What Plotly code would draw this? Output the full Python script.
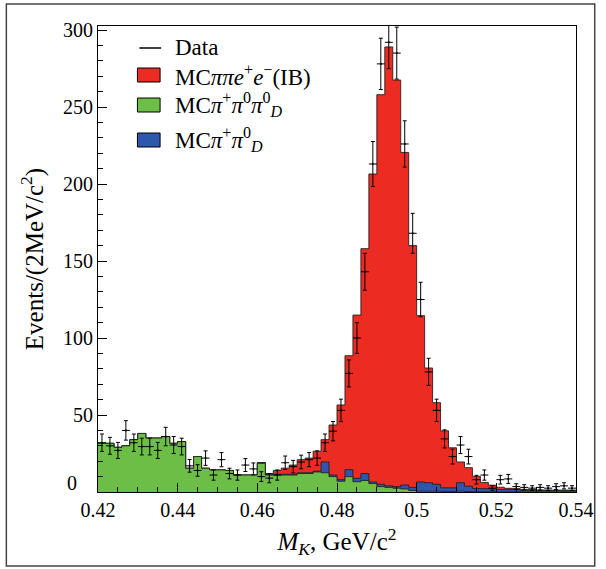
import numpy as np
import plotly.graph_objects as go

# ---- data (2 MeV/c^2 bins from 0.42 to 0.54) ----
x_min, x_max, bin_w = 0.42, 0.54, 0.002

green = [31.6, 31.6, 29, 30, 34, 38, 35, 35, 36, 31.6,
         32.7, 15.4, 23, 15.4, 14.3, 14.3, 14, 11, 11, 11,
         18.6, 11, 11, 11, 11, 12, 12, 13, 12.5, 10,
         7, 10, 6.7, 7.5, 5.5, 3.5, 3, 2.5, 2, 1,
         0.5, 0.5, 0.5, 0.3, 0.3, 0.5, 0.3, 0.2, 0.2, 0.1,
         0.1, 0.1, 0.1, 0, 0, 0, 0, 0, 0, 0]

blue = [0, 0, 0, 0, 0, 0, 0, 0, 0, 0,
        0, 0, 0, 0, 0, 0, 0, 0, 0, 0,
        0.5, 0.5, 0.5, 0.5, 0.5, 0.5, 0.5, 0.5, 7, 1,
        1, 4.5, 2.2, 4.5, 1, 1.5, 1, 1, 2.5, 2,
        6, 5.5, 4.5, 2.4, 2.4, 5.5, 3.5, 2, 2, 2,
        1.5, 1.5, 1.5, 1.2, 1.2, 1, 1, 1, 1, 1]

red = [0, 0, 0, 0, 0, 0, 0, 0, 0, 0,
       0, 0, 0, 0, 0, 0, 0, 0, 0, 0,
       0, 0.5, 2.5, 4, 6, 8.5, 9.5, 13, 14.5, 32.5,
       48.5, 74, 106, 146, 200, 253, 285, 264, 216, 157,
       108, 74.5, 53, 37, 26, 13.5, 12, 8, 4, 2.3,
       1.5, 0.8, 0.6, 0.5, 0.4, 0.3, 0.3, 0.2, 0.2, 0.2]

data = [32, 30, 27, 40, 32, 29.5, 29.5, 27, 36, 30.5,
        29.5, 17, 14, 22, 11, 21, 12, 11, 17.5, 15,
        10, 9, 11, 19, 16.5, 19.5, 21, 22, 32, 39.5,
        53, 77, 100, 143, 213, 278, 292, 285, 226, 168,
        125, 78, 53, 34.5, 23, 30.5, 23, 8, 11, 2.5,
        8, 8.5, 3.5, 3, 2.5, 3, 2.5, 3.5, 4, 2.5]

x_ticks = [0.42, 0.44, 0.46, 0.48, 0.5, 0.52, 0.54]
x_tick_text = ["0.42", "0.44", "0.46", "0.48", "0.5", "0.52", "0.54"]
y_ticks = [0, 50, 100, 150, 200, 250, 300]
y_tick_text = ["", "50", "100", "150", "200", "250", "300"]  # "0" drawn slightly raised, as in the reference

legend_names = [
    "Data",
    "MC<i>ππe</i><sup>+</sup><i>e</i><sup>−</sup>(IB)",
    "MC<i>π</i><sup>+</sup><i>π</i><sup>0</sup><i>π</i><sup>0</sup><sub><i>D</i></sub>",
    "MC<i>π</i><sup>+</sup><i>π</i><sup>0</sup><sub><i>D</i></sub>",
]

# ---- derived quantities ----
n = len(data)
edges = np.round(x_min + bin_w * np.arange(n + 1), 5)
centers = edges[:-1] + bin_w / 2
g = np.array(green, float)
b = np.array(blue, float)
r = np.array(red, float)
cum_g = g
cum_b = g + b
cum_r = g + b + r


def step(y):
    return list(y) + [y[-1]]


RED = "#EC2B22"
GREEN = "#6DBE46"
BLUE = "#2D56AC"
FONT = "Liberation Serif"

fig = go.Figure()
for y, col in [(cum_r, RED), (cum_b, BLUE), (cum_g, GREEN)]:
    fig.add_trace(go.Scatter(
        x=edges, y=step(y), mode="lines",
        line=dict(shape="hv", color="#222222", width=0.9),
        fill="tozeroy", fillcolor=col, showlegend=False, hoverinfo="skip"))

fig.add_trace(go.Scatter(
    x=centers, y=data, mode="markers",
    marker=dict(size=2, color="black"),
    error_y=dict(type="data", array=np.sqrt(np.array(data)), thickness=1, width=2, color="black"),
    error_x=dict(type="constant", value=bin_w / 2, thickness=1, width=0, color="black"),
    showlegend=False))

# plot area in pixels: x 98..583, y 26..492
L, R, T, B = 98, 583, 26, 492
W, H = 606, 569
pw, ph = R - L, B - T


def px_x(p):
    return (p - L) / pw


def px_y(p):
    return (B - p) / ph


shapes = [dict(type="rect", xref="paper", yref="paper",
               x0=px_x(5), x1=px_x(602), y0=px_y(566), y1=px_y(4),
               line=dict(color="#444444", width=1.5), fillcolor="rgba(0,0,0,0)",
               layer="below")]
annotations = []

# hand-made legend (top-left, inside the frame)
leg_rows = [48, 75, 105, 140]
leg_kinds = [("line", "black"), ("box", RED), ("box", GREEN), ("box", BLUE)]
for yc, (kind, col), txt in zip(leg_rows, leg_kinds, legend_names):
    if kind == "line":
        shapes.append(dict(type="line", xref="paper", yref="paper",
                           x0=px_x(140), x1=px_x(162), y0=px_y(yc), y1=px_y(yc),
                           line=dict(color="black", width=1.5)))
    else:
        shapes.append(dict(type="rect", xref="paper", yref="paper",
                           x0=px_x(138), x1=px_x(161), y0=px_y(yc + 7), y1=px_y(yc - 7),
                           line=dict(color="black", width=1), fillcolor=col))
    annotations.append(dict(text=txt, xref="paper", yref="paper",
                            x=px_x(174), y=px_y(yc), xanchor="left", yanchor="middle",
                            showarrow=False, font=dict(family=FONT, size=23, color="black")))

# raised "0" label of the y axis
annotations.append(dict(text="0", xref="paper", yref="paper",
                        x=px_x(79), y=px_y(483), xanchor="right", yanchor="middle",
                        showarrow=False, font=dict(family=FONT, size=20, color="black")))

fig.update_layout(
    width=W, height=H,
    margin=dict(l=L, r=W - R, t=T, b=H - B),
    paper_bgcolor="white", plot_bgcolor="white",
    font=dict(family=FONT, size=20, color="black"),
    showlegend=False,
    xaxis=dict(range=[x_min, x_max], tickvals=x_ticks, ticktext=x_tick_text,
               showline=True, linecolor="black", linewidth=1.2, mirror=True,
               ticks="inside", ticklen=9, tickcolor="black",
               minor=dict(dtick=0.005, ticks="inside", ticklen=5, tickcolor="black"),
               showgrid=False, zeroline=False,
               title=dict(text="<i>M</i><sub><i>K</i></sub>, GeV/c<sup>2</sup>",
                          font=dict(family=FONT, size=25), standoff=12)),
    yaxis=dict(range=[0, 302.6], tickvals=y_ticks, ticktext=y_tick_text,
               showline=True, linecolor="black", linewidth=1.2, mirror=True,
               ticks="inside", ticklen=9, tickcolor="black",
               minor=dict(dtick=10, ticks="inside", ticklen=5, tickcolor="black"),
               showgrid=False, zeroline=False,
               title=dict(text="Events/(2MeV/c<sup>2</sup>)",
                          font=dict(family=FONT, size=25), standoff=12)),
    shapes=shapes,
    annotations=annotations,
)

fig.write_html("out.html")
